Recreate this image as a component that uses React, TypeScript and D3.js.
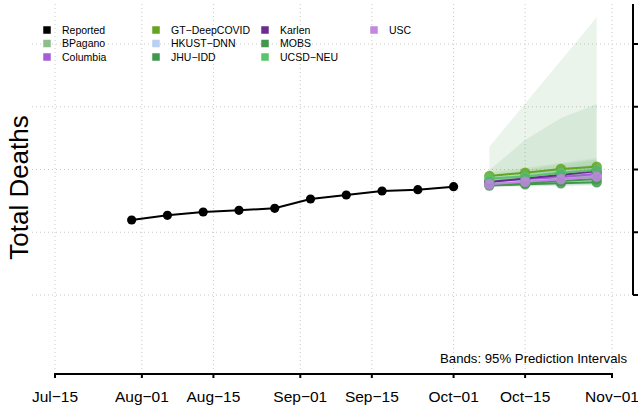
import React from 'react';
import * as d3 from 'd3';

const width = 638;
const height = 408;

// reported weekly cumulative deaths
const reportedDates = [
  '2020-07-30', '2020-08-06', '2020-08-13', '2020-08-20', '2020-08-27',
  '2020-09-03', '2020-09-10', '2020-09-17', '2020-09-24', '2020-10-01'
];
const reportedDeaths = [4390, 4540, 4645, 4700, 4763, 5060, 5187, 5315, 5356, 5452];

const forecastDates = ['2020-10-08', '2020-10-15', '2020-10-22', '2020-10-29'];

const models = ['BPagano', 'Columbia', 'GT\u2212DeepCOVID', 'HKUST\u2212DNN', 'JHU\u2212IDD', 'Karlen', 'MOBS', 'UCSD\u2212NEU', 'USC'];
const modelColors = ['#8dbd8b', '#a45fd8', '#64a41e', '#b9d0f1', '#3f984b', '#6a2c91', '#42974c', '#55c66a', '#c286e3'];

const medians = [
  [5634, 5697, 5761, 5825],
  [5570, 5665, 5761, 5857],
  [5793, 5898, 6016, 6089],
  [5570, 5634, 5688, 5729],
  [5490, 5528, 5560, 5592],
  [5602, 5713, 5825, 5952],
  [5538, 5570, 5634, 5697],
  [5713, 5777, 5898, 5984],
  [5528, 5611, 5688, 5771]
];
const lower95 = [
  [5538, 5570, 5602, 5634],
  [5474, 5506, 5570, 5634],
  [5665, 5761, 5857, 5920],
  [5474, 5506, 5528, 5538],
  [5442, 5458, 5474, 5490],
  [5506, 5570, 5634, 5729],
  [5458, 5474, 5490, 5506],
  [5570, 5634, 5697, 5761],
  [5442, 5474, 5506, 5538]
];
const upper95 = [
  [5729, 5825, 5920, 6016],
  [5665, 5793, 5920, 6048],
  [5920, 6048, 6207, 6335],
  [5761, 5984, 6207, 6398],
  [6727, 8100, 9474, 10851],
  [5697, 5857, 6016, 6175],
  [5984, 6940, 7642, 8088],
  [5857, 5984, 6144, 6303],
  [5634, 5761, 5888, 6016]
];

const xTickDates = ['2020-07-15', '2020-08-01', '2020-08-15', '2020-09-01', '2020-09-15', '2020-10-01', '2020-10-15', '2020-11-01'];
const xTickLabels = ['Jul\u221215', 'Aug\u221201', 'Aug\u221215', 'Sep\u221201', 'Sep\u221215', 'Oct\u221201', 'Oct\u221215', 'Nov\u221201'];
const yTicks = [2000, 4000, 6000, 8000, 10000];

const font = '"Liberation Sans", Arial, Helvetica, sans-serif';
const parse = (s: string) => new Date(s + 'T00:00:00Z');

const App: React.FC = () => {
  const plot = { left: 32, right: 633, top: 4, bottom: 370 };

  const xScale = d3.scaleUtc()
    .domain([parse('2020-07-15'), parse('2020-11-01')])
    .range([55, 612]);

  const yScale = d3.scaleLinear()
    .domain([2000, 10000])
    .range([295, 44]);

  const line = d3.line<[Date, number]>()
    .x(d => xScale(d[0]))
    .y(d => yScale(d[1]));

  const band = d3.area<number>()
    .x((_, i) => xScale(parse(forecastDates[i])))
    .y0(d => yScale(d));

  const reported: [Date, number][] = reportedDates.map((d, i) => [parse(d), reportedDeaths[i]]);

  const legendItems = ['Reported', ...models];
  const legendColors = ['#000000', ...modelColors];
  const axisY = 374;

  return (
    <svg width={width} height={height} style={{ position: 'absolute', left: 0, top: 0, background: '#fff' }} fontFamily={font}>
      <defs>
        <clipPath id="plotclip">
          <rect x={plot.left} y={plot.top} width={plot.right - plot.left} height={plot.bottom - plot.top} />
        </clipPath>
      </defs>

      {/* grid */}
      <g stroke="#c8c8c8" strokeWidth={1} strokeDasharray="1 3">
        {xTickDates.map(d => (
          <line key={d} x1={xScale(parse(d))} x2={xScale(parse(d))} y1={plot.top} y2={plot.bottom} />
        ))}
        {yTicks.map(t => (
          <line key={t} x1={plot.left} x2={plot.right} y1={yScale(t)} y2={yScale(t)} />
        ))}
      </g>

      <g clipPath="url(#plotclip)">
        {/* prediction bands */}
        {models.map((m, k) => {
          const area = band.y1((_, i) => yScale(upper95[k][i]));
          return <path key={m} d={area(lower95[k]) || ''} fill={modelColors[k]} fillOpacity={0.11} stroke="none" />;
        })}

        {/* reported */}
        <path d={line(reported) || ''} fill="none" stroke="#000" strokeWidth={2} />
        {reported.map((d, i) => (
          <circle key={i} cx={xScale(d[0])} cy={yScale(d[1])} r={4.6} fill="#000" />
        ))}

        {/* forecast medians */}
        {models.map((m, k) => {
          const pts: [Date, number][] = forecastDates.map((d, i) => [parse(d), medians[k][i]]);
          return <path key={m} d={line(pts) || ''} fill="none" stroke={modelColors[k]} strokeWidth={2} />;
        })}
        {models.map((m, k) => (
          <g key={m}>
            {forecastDates.map((d, i) => (
              <circle key={d} cx={xScale(parse(d))} cy={yScale(medians[k][i])} r={5.2}
                fill={modelColors[k]} fillOpacity={0.85} />
            ))}
          </g>
        ))}
      </g>

      {/* bottom axis */}
      <g stroke="#000" strokeWidth={2}>
        <line x1={xScale(parse(xTickDates[0]))} x2={xScale(parse(xTickDates[xTickDates.length - 1]))} y1={axisY} y2={axisY} strokeLinecap="square" />
        {xTickDates.map(d => (
          <line key={d} x1={xScale(parse(d))} x2={xScale(parse(d))} y1={axisY} y2={axisY + 4} />
        ))}
      </g>
      {xTickDates.map((d, i) => (
        <text key={d} x={xScale(parse(d))} y={401.5} textAnchor="middle" fontSize={15.5} fill="#000">
          {xTickLabels[i]}
        </text>
      ))}

      {/* right axis */}
      <g stroke="#000" strokeWidth={2}>
        <line x1={plot.right} x2={plot.right} y1={plot.top} y2={yScale(yTicks[0])} />
        {yTicks.map(t => (
          <line key={t} x1={plot.right} x2={plot.right + 7} y1={yScale(t)} y2={yScale(t)} />
        ))}
      </g>

      <text transform="translate(27.5,187.5) rotate(-90)" textAnchor="middle" fontSize={26} fill="#000">
        Total Deaths
      </text>

      <text x={627} y={362.5} textAnchor="end" fontSize={13.2} fill="#000">
        Bands: 95% Prediction Intervals
      </text>

      {/* legend */}
      <g>
        {legendItems.map((name, i) => {
          const col = Math.floor(i / 3);
          const row = i % 3;
          const cx = 47 + col * 109;
          const cy = 30 + row * 13.5;
          return (
            <g key={name}>
              <rect x={cx - 3.75} y={cy - 3.75} width={7.5} height={7.5} fill={legendColors[i]} />
              <text x={cx + 15} y={cy + 3.8} fontSize={10.5} fill="#000">{name}</text>
            </g>
          );
        })}
      </g>
    </svg>
  );
};

export default App;
